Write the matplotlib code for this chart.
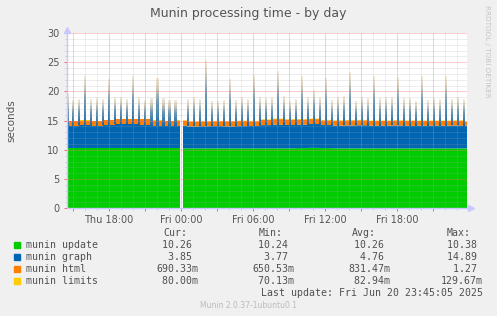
import numpy as np
import matplotlib
matplotlib.use('Agg')
from matplotlib import pyplot as plt
from matplotlib.colors import LinearSegmentedColormap
from matplotlib.patches import Rectangle

# time axis: hours since Thu 00:00, one sample every 5 minutes
start_h = 14.5
n_samples = 400
step_h = 1 / 12

# hourly base levels in seconds (blocks start at 14:30 Thu)
update_hourly = [10.26, 10.26, 10.26, 10.26, 10.26, 10.26, 10.26, 10.26, 10.26, 10.26,
                 10.26, 10.26, 10.26, 10.26, 10.26, 10.26, 10.26, 10.26, 10.26, 10.30,
                 10.34, 10.30, 10.26, 10.26, 10.26, 10.26, 10.26, 10.26, 10.26, 10.26,
                 10.26, 10.26, 10.26, 10.26]
graph_hourly = [3.90, 3.92, 3.88, 3.95, 4.10, 4.12, 4.08, 3.90, 3.85, 3.88,
                3.75, 3.78, 3.80, 3.76, 3.80, 3.82, 3.98, 4.05, 4.00, 4.02,
                4.08, 3.95, 3.90, 3.92, 3.95, 3.88, 3.90, 3.92, 3.85, 3.88,
                3.90, 3.86, 3.92, 3.85]
html_hourly = [0.78, 0.82, 0.80, 0.85, 0.88, 0.90, 0.86, 0.82, 0.80, 0.85,
               0.78, 0.80, 0.82, 0.84, 0.86, 0.80, 0.90, 0.95, 0.92, 0.88,
               0.85, 0.80, 0.82, 0.86, 0.84, 0.80, 0.78, 0.82, 0.85, 0.80,
               0.78, 0.82, 0.80, 0.69]
limits_hourly = [0.08] * 34

# half-hourly "munin graph" spikes: total height (s) reached, from 14:30 Thu
spike_peak = [19.6, 18.6, 18.6, 22.4, 18.6, 18.9, 18.6, 22.0, 18.9, 18.9,
              18.6, 22.5, 19.1, 18.5, 18.8, 22.3, 18.8, 18.5, 18.5, np.nan,
              18.5, 18.9, 18.6, 25.2, 18.3, 18.3, 18.3, 22.0, 18.5, 18.9,
              18.6, 22.8, 18.9, 18.8, 19.1, 23.4, 19.1, 18.3, 18.6, 22.6,
              18.9, 20.2, 18.9, 22.2, 18.6, 19.1, 19.1, 23.2, 18.3, 18.9,
              18.9, 22.6, 18.9, 19.1, 18.9, 22.3, 18.9, 18.9, 18.3, 22.6,
              18.6, 18.9, 18.6, 22.6, 18.6, 18.9, 18.6]
missing_times = [24.0, 24.0 + 1 / 12]

x_tick_hours = [18, 24, 30, 36, 42]
x_tick_labels = ['Thu 18:00', 'Fri 00:00', 'Fri 06:00', 'Fri 12:00', 'Fri 18:00']

names = ['munin update', 'munin graph', 'munin html', 'munin limits']
colors = ['#00cc00', '#0066b3', '#ff8000', '#ffcc00']
cur_vals = ['10.26 ', ' 3.85 ', '690.33m', ' 80.00m']
min_vals = ['10.24 ', ' 3.77 ', '650.53m', ' 70.13m']
avg_vals = ['10.26 ', ' 4.76 ', '831.47m', ' 82.94m']
max_vals = ['10.38 ', '14.89 ', ' 1.27 ', '129.67m']

W, H = 497, 316


def fx(px):
    return px / W


def fy(py):
    return 1 - py / H


fig = plt.figure(figsize=(W / 100, H / 100), dpi=100, facecolor='#f0f0f0')
ax = fig.add_axes([fx(67), fy(208.3), 400 / W, 175.3 / H])
ax.set_facecolor('white')

# build 5-minute series from the hourly blocks
t = start_h + np.arange(n_samples) * step_h
blk = np.minimum(np.arange(n_samples) // 12, len(update_hourly) - 1)
series = []
for hourly in (update_hourly, graph_hourly, html_hourly, limits_hourly):
    s = np.array(hourly, dtype=float)[blk]
    for m in missing_times:
        s[int(round((m - start_h) / step_h))] = np.nan
    series.append(s)

x = np.append(t, t[-1] + step_h)
bottom = np.zeros(n_samples)
for vals, col in zip(series, colors):
    top = bottom + vals
    ax.fill_between(x, np.append(bottom, bottom[-1]), np.append(top, top[-1]),
                    step='post', color=col, lw=0, zorder=1)
    bottom = top

# spikes drawn with a fading gradient
spike_cmap = LinearSegmentedColormap.from_list(
    'spike', [(0, '#1568a8'), (0.5, '#6e97b0'), (0.8, '#d8d0bc'), (1, '#f5eada')])
grad = np.linspace(0, 1, 64).reshape(-1, 1)
blue_top = series[0] + series[1]
for i, peak in enumerate(spike_peak):
    if np.isnan(peak):
        continue
    ts = start_h + i * 0.5
    k = int(round((ts - start_h) / step_h))
    ax.imshow(grad, cmap=spike_cmap, origin='lower', aspect='auto',
              extent=(ts - 0.5 * step_h, ts + 1.5 * step_h, blue_top[k], peak),
              zorder=2, interpolation='bilinear')

ax.set_xlim(start_h, start_h + n_samples * step_h)
ax.set_ylim(0, 30)

major_x = np.arange(15, 48, 3)
ax.set_xticks(major_x)
ax.set_xticklabels([x_tick_labels[x_tick_hours.index(h)] if h in x_tick_hours else ''
                    for h in major_x])
ax.set_xticks(np.arange(15, 48, 1), minor=True)
ax.set_yticks(np.arange(0, 31, 5))
ax.set_yticks(np.arange(0, 31, 1), minor=True)

ax.set_axisbelow(False)
ax.grid(which='major', color='#ff7070', ls=(0, (1, 1)), lw=0.72, alpha=0.7)
ax.grid(which='minor', color='#a8a8a8', ls=(0, (1, 1)), lw=0.72, alpha=0.4)

ax.tick_params(which='major', length=2, width=0.7, color='#ff6060', labelsize=7,
               labelcolor='#555555', pad=2.5)
ax.tick_params(which='minor', length=1.5, width=0.5, color='#c0c0c0')
ax.tick_params(axis='y', pad=3.5)

for side in ('top', 'right'):
    ax.spines[side].set_visible(False)
for side in ('left', 'bottom'):
    ax.spines[side].set_color('#c8c8ff')
    ax.spines[side].set_linewidth(1)
    ax.spines[side].set_zorder(4)
ax.plot([0], [1.015], marker='^', ms=4, color='#c8c8ff', transform=ax.transAxes,
        clip_on=False, zorder=5)
ax.plot([1.01], [0], marker='>', ms=4, color='#c8c8ff', transform=ax.transAxes,
        clip_on=False, zorder=5)

# texts
fig.text(fx(248.5), fy(13), 'Munin processing time - by day', ha='center', va='center',
         size=9, color='#555555')
fig.text(fx(11), fy(121), 'seconds', rotation=90, ha='center', va='center',
         size=7.5, color='#555555')
fig.text(fx(487), fy(5), 'RRDTOOL / TOBI OETIKER', rotation=270, ha='center', va='top',
         size=5.2, color='#c4c4c4')

mono = dict(family='DejaVu Sans Mono', size=7.1, color='#505050', va='center')
fig.text(fx(163), fy(232.5), 'Cur:', ha='left', **mono)
fig.text(fx(258.3), fy(232.5), 'Min:', ha='left', **mono)
fig.text(fx(351.7), fy(232.5), 'Avg:', ha='left', **mono)
fig.text(fx(446.7), fy(232.5), 'Max:', ha='left', **mono)

row_y = [244.5, 256.5, 268.5, 280.5]
for j in range(4):
    y = fy(row_y[j])
    fig.patches.append(Rectangle((fx(14), fy(row_y[j] + 3)), 6 / W, 6 / H,
                                 transform=fig.transFigure, color=colors[j]))
    fig.text(fx(26), y, names[j], ha='left', **mono)
    fig.text(fx(198.5), y, cur_vals[j], ha='right', **mono)
    fig.text(fx(294.5), y, min_vals[j], ha='right', **mono)
    fig.text(fx(390.5), y, avg_vals[j], ha='right', **mono)
    fig.text(fx(482.8), y, max_vals[j], ha='right', **mono)

fig.text(fx(482.8), fy(293.5), 'Last update: Fri Jun 20 23:45:05 2025', ha='right', **mono)
fig.text(fx(248), fy(305), 'Munin 2.0.37-1ubuntu0.1', ha='center', va='center',
         size=5.5, color='#bbbbbb')

fig.savefig('out.png', dpi=100, facecolor=fig.get_facecolor())
